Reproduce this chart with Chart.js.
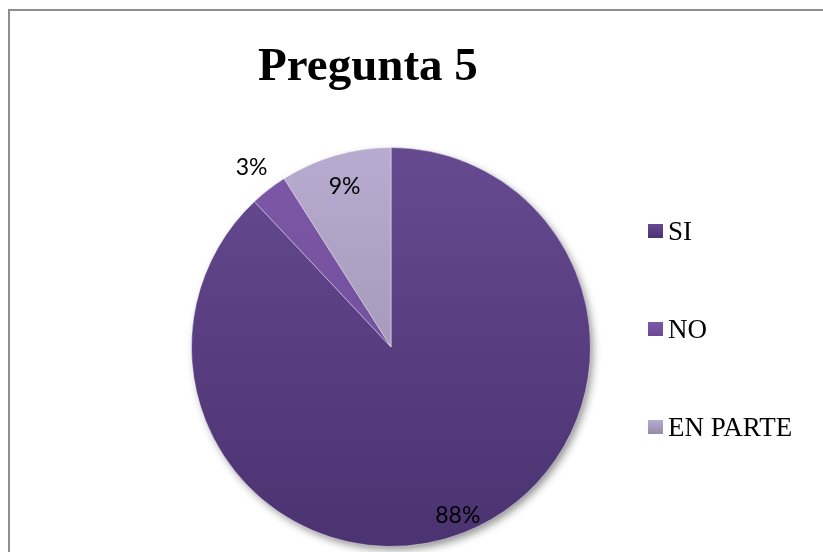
<!DOCTYPE html>
<html>
<head>
<meta charset="utf-8">
<script src="https://cdn.jsdelivr.net/npm/chart.js@4.4.1/dist/chart.umd.min.js"></script>
<style>
  html, body { margin: 0; padding: 0; background: #ffffff; overflow: hidden; }
  body { width: 823px; height: 552px; position: relative; }
  #frame { position: absolute; left: 8px; top: 9px; width: 815px; height: 543px; border-left: 2px solid #8e8e8e; border-top: 2px solid #8e8e8e; box-sizing: border-box; }
  #wrap { position: absolute; left: 0; top: 0; width: 823px; height: 552px; }
  #title { position: absolute; left: 0; width: 736px; top: 34px; text-align: center; font-family: "Liberation Serif", "Times New Roman", serif; font-weight: bold; font-size: 47px; color: #000; line-height: 60px; }
  .leg { position: absolute; left: 648px; height: 30px; display: flex; align-items: center; font-family: "Liberation Serif", "Times New Roman", serif; font-size: 27px; color: #000; }
  .leg .sw { width: 15px; height: 14px; margin-right: 5px; }
</style>
</head>
<body>
<div id="frame"></div>
<div id="wrap"><canvas id="c" width="823" height="552"></canvas></div>
<div id="title">Pregunta 5</div>
<div id="legend"></div>
<script>
const chartTitle = 'Pregunta 5';
const categories = ['SI', 'NO', 'EN PARTE'];
const values = [88, 3, 9];
const colorsTop = ['#654a90', '#7d58a8', '#b7abcf'];
const colorsBottom = ['#4b3270', '#6b4893', '#958ba8'];
const legendCenters = [231, 329, 427];

// HTML legend
const legendEl = document.getElementById('legend');
categories.forEach((c, i) => {
  const d = document.createElement('div');
  d.className = 'leg';
  d.style.top = (legendCenters[i] - 15) + 'px';
  const sw = document.createElement('div');
  sw.className = 'sw';
  sw.style.background = 'linear-gradient(' + colorsTop[i] + ',' + colorsBottom[i] + ')';
  const t = document.createElement('span');
  t.textContent = c;
  d.appendChild(sw); d.appendChild(t);
  legendEl.appendChild(d);
});

function gradFor(ctx) {
  const chart = ctx.chart;
  const i = ctx.dataIndex;
  const area = chart.chartArea;
  if (!area) return colorsTop[i];
  const g = chart.ctx.createLinearGradient(0, area.top, 0, area.bottom);
  g.addColorStop(0, colorsTop[i]);
  g.addColorStop(1, colorsBottom[i]);
  return g;
}

const shadowPlugin = {
  id: 'pieShadow',
  beforeDatasetsDraw(chart) {
    const meta = chart.getDatasetMeta(0);
    if (!meta.data.length) return;
    const a = meta.data[0];
    const ctx = chart.ctx;
    ctx.save();
    ctx.shadowColor = 'rgba(0,0,0,0.45)';
    ctx.shadowBlur = 8;
    ctx.shadowOffsetX = 3;
    ctx.shadowOffsetY = 4;
    ctx.beginPath();
    ctx.arc(a.x, a.y, a.outerRadius - 1, 0, Math.PI * 2);
    ctx.fillStyle = '#55397a';
    ctx.fill();
    ctx.restore();
  }
};

const labelPlugin = {
  id: 'pctLabels',
  afterDatasetsDraw(chart) {
    const meta = chart.getDatasetMeta(0);
    const ctx = chart.ctx;
    const total = values.reduce((s, v) => s + v, 0);
    ctx.save();
    ctx.font = '23px Lato, "Open Sans", sans-serif';
    ctx.fillStyle = '#000';
    ctx.textAlign = 'center';
    ctx.textBaseline = 'middle';
    meta.data.forEach((arc, i) => {
      const p = arc.getProps(['x', 'y', 'startAngle', 'endAngle', 'outerRadius']);
      const mid = (p.startAngle + p.endAngle) / 2;
      const frac = values[i] / total;
      let f;
      if (frac < 0.05) f = 1.14;
      else if (frac > 0.5) f = 0.91;
      else f = 0.835;
      const x = p.x + Math.cos(mid) * p.outerRadius * f;
      const y = p.y + Math.sin(mid) * p.outerRadius * f;
      ctx.fillText(values[i] + '%', x, y);
    });
    ctx.restore();
  }
};

new Chart(document.getElementById('c'), {
  type: 'pie',
  data: {
    labels: categories,
    datasets: [{
      data: values,
      backgroundColor: gradFor,
      borderColor: 'rgba(255,255,255,0.45)',
      borderWidth: 1
    }]
  },
  options: {
    responsive: false,
    animation: false,
    layout: { padding: { left: 191, right: 232, top: 147, bottom: 5 } },
    plugins: {
      legend: { display: false },
      title: { display: false },
      tooltip: { enabled: false }
    }
  },
  plugins: [shadowPlugin, labelPlugin]
});
</script>
</body>
</html>
